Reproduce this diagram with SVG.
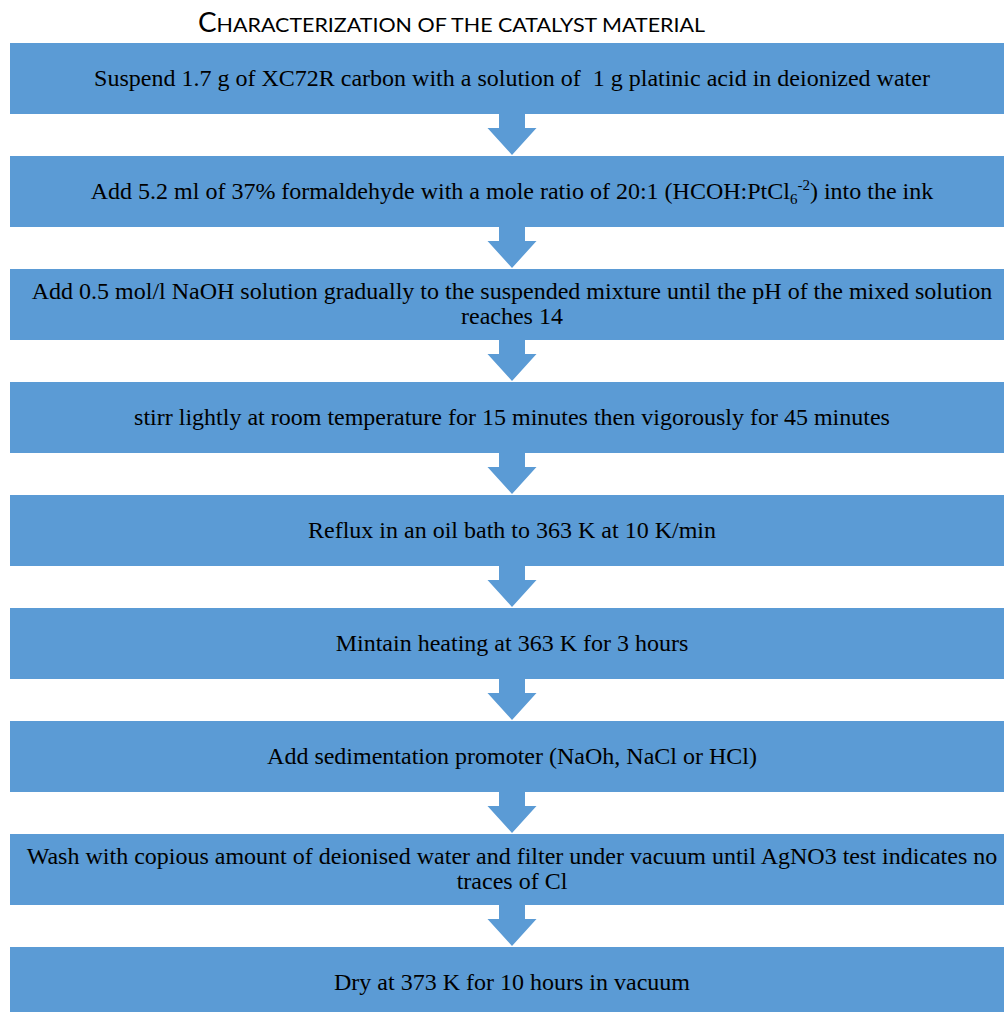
<svg xmlns="http://www.w3.org/2000/svg" width="1004" height="1012" viewBox="0 0 1004 1012">
<defs>
<style>
.box{fill:#5B9BD5;}
.arr{fill:#5B9BD5;}
.t{font-family:"Liberation Serif","Times New Roman",serif;font-size:24px;fill:#000;text-anchor:middle;}
.title{font-family:Lato,"Open Sans","Liberation Sans",sans-serif;fill:#000;}
</style>
<path id="arrow" class="arr" d="M-13,0 H13 V14 H24.5 L0,41 L-24.5,14 H-13 Z"/>
</defs>
<rect width="1004" height="1012" fill="#fff"/>
<text class="title" x="198" y="32" textLength="507" lengthAdjust="spacingAndGlyphs"><tspan font-size="26">C</tspan><tspan font-size="20">HARACTERIZATION OF THE CATALYST MATERIAL</tspan></text>
<g id="connectors">
<use href="#arrow" x="512" y="114"/>
<use href="#arrow" x="512" y="227"/>
<use href="#arrow" x="512" y="340"/>
<use href="#arrow" x="512" y="453"/>
<use href="#arrow" x="512" y="566"/>
<use href="#arrow" x="512" y="679"/>
<use href="#arrow" x="512" y="792"/>
<use href="#arrow" x="512" y="905"/>
</g>
<g id="step1"><rect class="box" x="10" y="43" width="1010" height="71"/><text class="t" x="512" y="86" xml:space="preserve">Suspend 1.7 g of XC72R carbon with a solution of  1 g platinic acid in deionized water</text></g>
<g id="step2"><rect class="box" x="10" y="156" width="1010" height="71"/><text class="t" x="512" y="199">Add 5.2 ml of 37% formaldehyde with a mole ratio of 20:1 (HCOH:PtCl<tspan font-size="15" dy="5">6</tspan><tspan font-size="15" dy="-14">-2</tspan><tspan dy="9">) into the ink</tspan></text></g>
<g id="step3"><rect class="box" x="10" y="269" width="1010" height="71"/><text class="t" x="512" y="298.5">Add 0.5 mol/l NaOH solution gradually to the suspended mixture until the pH of the mixed solution</text><text class="t" x="512" y="323.5">reaches 14</text></g>
<g id="step4"><rect class="box" x="10" y="382" width="1010" height="71"/><text class="t" x="512" y="425">stirr lightly at room temperature for 15 minutes then vigorously for 45 minutes</text></g>
<g id="step5"><rect class="box" x="10" y="495" width="1010" height="71"/><text class="t" x="512" y="538">Reflux in an oil bath to 363 K at 10 K/min</text></g>
<g id="step6"><rect class="box" x="10" y="608" width="1010" height="71"/><text class="t" x="512" y="651">Mintain heating at 363 K for 3 hours</text></g>
<g id="step7"><rect class="box" x="10" y="721" width="1010" height="71"/><text class="t" x="512" y="764">Add sedimentation promoter (NaOh, NaCl or HCl)</text></g>
<g id="step8"><rect class="box" x="10" y="834" width="1010" height="71"/><text class="t" x="512" y="863.5">Wash with copious amount of deionised water and filter under vacuum until AgNO3 test indicates no</text><text class="t" x="512" y="888.5">traces of Cl</text></g>
<g id="step9"><rect class="box" x="10" y="947" width="1010" height="71"/><text class="t" x="512" y="990">Dry at 373 K for 10 hours in vacuum</text></g>
</svg>
